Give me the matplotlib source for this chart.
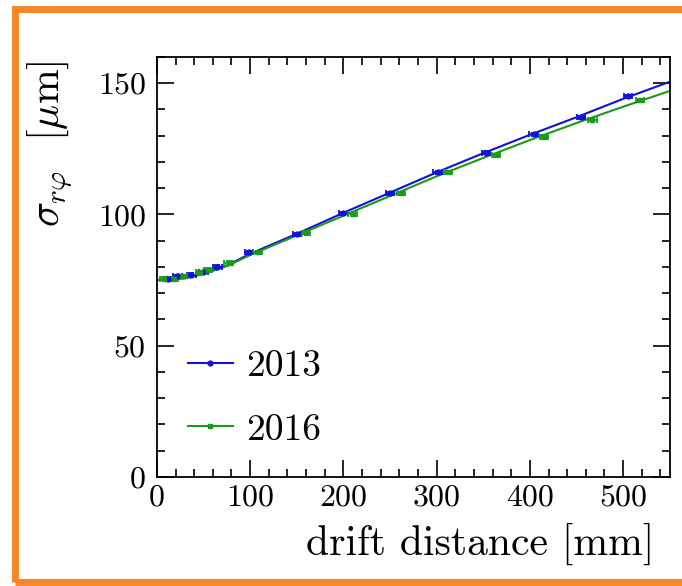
import matplotlib
matplotlib.use("Agg")
import matplotlib.pyplot as plt
from matplotlib.patches import Rectangle
from matplotlib.ticker import MultipleLocator

plt.rcParams["font.family"] = "serif"
plt.rcParams["font.serif"] = ["cmr10", "DejaVu Serif"]
plt.rcParams["mathtext.fontset"] = "cm"
plt.rcParams["axes.unicode_minus"] = False

# measured resolution vs drift distance
x_2013 = [12, 22, 37, 50, 65, 99, 150, 200, 250, 301, 353, 404, 455, 505]
y_2013 = [75.5, 76.5, 77, 78, 80, 85.5, 92.5, 100.5, 108, 116, 123.5, 130.5, 137, 145]
x_2016 = [8, 18, 28, 46, 55, 77, 108, 160, 210, 262, 312, 364, 415, 467, 518]
y_2016 = [75.5, 75.5, 76.5, 78, 79, 81.5, 85.5, 93, 100, 108, 116, 122.5, 129.5, 136, 143.5]
x_err = 4.5
y_err = 0.6

# fitted curves
fit_x = [0, 30, 50, 75, 100, 150, 200, 250, 300, 350, 400, 450, 500, 550]
fit_2013 = [75, 75.8, 77.5, 80.5, 85, 92.6, 100.6, 108.3, 116, 123.3, 130.3, 137, 144, 150.5]
fit_2016 = [75, 75.6, 77.3, 80.3, 84.5, 92, 99.5, 107, 114.5, 121.5, 128.3, 134.8, 141, 147]

blue = "#1010e0"
green = "#1a9a1a"

fig = plt.figure(figsize=(6.82, 5.86), dpi=100)
ax = fig.add_axes([0.230, 0.186, 0.752, 0.717])

ax.plot(fit_x, fit_2013, color=blue, lw=1.5)
ax.plot(fit_x, fit_2016, color=green, lw=1.5)
ax.errorbar(x_2013, y_2013, xerr=x_err, yerr=y_err, fmt="o", color=blue,
            ms=3.5, capsize=2.5, elinewidth=1.3, capthick=1.3)
ax.errorbar(x_2016, y_2016, xerr=x_err, yerr=y_err, fmt="s", color=green,
            ms=3, capsize=2.5, elinewidth=1.3, capthick=1.3)

# legend proxies
ax.plot([], [], "-o", color=blue, ms=3.5, lw=1.5, label="2013")
ax.plot([], [], "-s", color=green, ms=3, lw=1.5, label="2016")
h, l = ax.get_legend_handles_labels()
ax.legend(h[-2:], l[-2:], loc="lower left", frameon=False, fontsize=27,
          handlelength=1.2, handletextpad=0.35, labelspacing=0.8,
          bbox_to_anchor=(-0.006, -0.008))

ax.set_xlim(0, 550)
ax.set_ylim(0, 160)
ax.xaxis.set_major_locator(MultipleLocator(100))
ax.xaxis.set_minor_locator(MultipleLocator(20))
ax.yaxis.set_major_locator(MultipleLocator(50))
ax.yaxis.set_minor_locator(MultipleLocator(10))
ax.tick_params(which="both", direction="in", top=True, right=True, width=1.2)
ax.tick_params(which="major", length=12, labelsize=23)
ax.tick_params(axis="x", which="major", pad=5)
ax.tick_params(axis="y", which="major", pad=8)
ax.tick_params(which="minor", length=6)
for s in ax.spines.values():
    s.set_linewidth(1.3)

ax.set_xlabel("drift distance [mm]", fontsize=30, ha="right")
ax.xaxis.set_label_coords(0.971, -0.11, transform=ax.transAxes)
ax.xaxis.label.set_va("top")
ax.set_ylabel(r"$\sigma_{r\varphi}$  [$\mathrm{\mu}$m]", fontsize=30, ha="right")
ax.yaxis.set_label_coords(-0.21, 0.99, transform=ax.transAxes)
ax.yaxis.label.set_va("center")

# orange frame around the slide panel
fig.patches.append(Rectangle((15 / 682, 4.5 / 586), 2.0, 573 / 586,
                             transform=fig.transFigure, fill=False,
                             edgecolor="#f5892a", lw=5, zorder=10))

fig.savefig("out.png", dpi=100)
